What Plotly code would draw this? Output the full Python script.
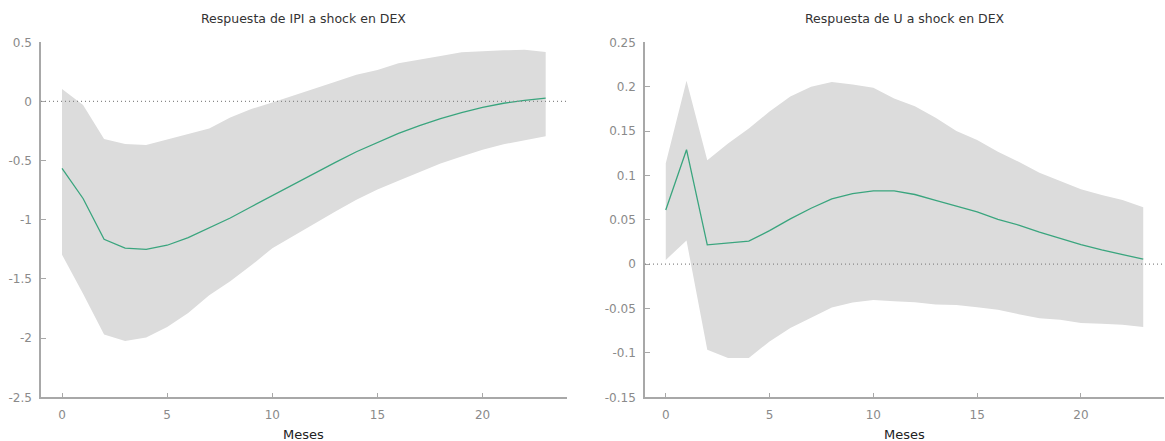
import plotly.graph_objects as go

# Horizon (months after the shock)
meses = list(range(24))

# IPI response to a DEX shock: point estimate and confidence band
ipi_resp = [-0.565, -0.82, -1.165, -1.24, -1.25, -1.215, -1.15, -1.07, -0.985, -0.89,
            -0.795, -0.70, -0.605, -0.515, -0.425, -0.345, -0.27, -0.205, -0.145, -0.095,
            -0.05, -0.015, 0.01, 0.028]
ipi_sup = [0.105, -0.03, -0.317, -0.36, -0.368, -0.32, -0.27, -0.228, -0.135, -0.064,
           -0.008, 0.048, 0.11, 0.166, 0.225, 0.265, 0.324, 0.357, 0.385, 0.416,
           0.427, 0.432, 0.436, 0.417]
ipi_inf = [-1.295, -1.624, -1.97, -2.024, -1.995, -1.906, -1.787, -1.638, -1.52, -1.385,
           -1.24, -1.135, -1.03, -0.93, -0.83, -0.745, -0.67, -0.595, -0.525, -0.465,
           -0.407, -0.362, -0.327, -0.295]

# U response to a DEX shock: point estimate and confidence band
u_resp = [0.061, 0.129, 0.0217, 0.024, 0.026, 0.0378, 0.051, 0.063, 0.0735, 0.0795,
          0.0825, 0.0825, 0.0785, 0.072, 0.0655, 0.059, 0.0505, 0.044, 0.036, 0.029,
          0.022, 0.016, 0.0105, 0.0056]
u_sup = [0.1136, 0.2066, 0.117, 0.136, 0.153, 0.172, 0.189, 0.1998, 0.2054, 0.2025,
         0.1987, 0.1867, 0.178, 0.165, 0.150, 0.140, 0.1267, 0.1154, 0.103, 0.0937,
         0.0844, 0.078, 0.0723, 0.064]
u_inf = [0.0048, 0.0266, -0.0964, -0.1058, -0.1058, -0.087, -0.072, -0.0608, -0.0488, -0.0432,
         -0.0405, -0.0417, -0.043, -0.0454, -0.0459, -0.0484, -0.0514, -0.0563, -0.0608, -0.0627,
         -0.0664, -0.067, -0.0683, -0.0709]

# Axis ticks
x_ticks = [0, 5, 10, 15, 20]
ipi_ticks = [0.5, 0, -0.5, -1, -1.5, -2, -2.5]
ipi_tick_text = ["0.5", "0", "-0.5", "-1", "-1.5", "-2", "-2.5"]
u_ticks = [0.25, 0.2, 0.15, 0.1, 0.05, 0, -0.05, -0.1, -0.15]
u_tick_text = ["0.25", "0.2", "0.15", "0.1", "0.05", "0", "-0.05", "-0.1", "-0.15"]

titles = ["Respuesta de IPI a shock en DEX", "Respuesta de U a shock en DEX"]
x_label = "Meses"

W, H = 1165, 441
FONT = "DejaVu Sans"
LINE = "#3aa57e"
BAND = "#dcdcdc"
AXIS = "#a8a8a8"
TICKTXT = "#8a8a8a"

fig = go.Figure()

panels = [
    (ipi_resp, ipi_sup, ipi_inf, "x", "y"),
    (u_resp, u_sup, u_inf, "x2", "y2"),
]
for resp, sup, inf, xa, ya in panels:
    fig.add_trace(go.Scatter(x=meses, y=inf, mode="lines", line=dict(width=0),
                             hoverinfo="skip", showlegend=False, xaxis=xa, yaxis=ya))
    fig.add_trace(go.Scatter(x=meses, y=sup, mode="lines", line=dict(width=0),
                             fill="tonexty", fillcolor=BAND, hoverinfo="skip",
                             showlegend=False, xaxis=xa, yaxis=ya))
    fig.add_trace(go.Scatter(x=meses, y=resp, mode="lines",
                             line=dict(color=LINE, width=1.3),
                             showlegend=False, xaxis=xa, yaxis=ya))

x_dom1 = [41 / W, 566.7 / W]
x_dom2 = [645 / W, 1164 / W]
y_dom = [(H - 397.3) / H, (H - 42.3) / H]

common_x = dict(range=[-1, 24], tickvals=x_ticks, showline=True, linecolor=AXIS,
                linewidth=1.5, ticks="inside", ticklen=5, tickcolor=AXIS, tickwidth=1,
                showgrid=False, zeroline=False, ticklabelstandoff=6, automargin=False,
                tickfont=dict(family=FONT, size=12, color=TICKTXT))
common_y = dict(showline=True, linecolor=AXIS, linewidth=1.5, ticks="inside",
                ticklen=5, tickcolor=AXIS, tickwidth=1, showgrid=False, zeroline=False,
                ticklabelstandoff=5, automargin=False,
                tickfont=dict(family=FONT, size=12, color=TICKTXT))

fig.update_layout(
    width=W, height=H,
    margin=dict(l=0, r=0, t=0, b=0, autoexpand=False),
    paper_bgcolor="white", plot_bgcolor="white",
    font=dict(family=FONT, size=11, color="#333"),
    xaxis=dict(domain=x_dom1, anchor="y", **common_x),
    yaxis=dict(domain=y_dom, anchor="x", range=[-2.5, 0.5], tickvals=ipi_ticks,
               ticktext=ipi_tick_text, **common_y),
    xaxis2=dict(domain=x_dom2, anchor="y2", **common_x),
    yaxis2=dict(domain=y_dom, anchor="x2", range=[-0.15, 0.25], tickvals=u_ticks,
                ticktext=u_tick_text, **common_y),
)

# Dotted zero reference line on each panel
for xa, ya in [("x", "y"), ("x2", "y2")]:
    fig.add_shape(type="line", xref=f"{xa} domain", yref=ya, x0=0, x1=1, y0=0, y1=0,
                  line=dict(color="#888", width=1.2, dash="1px,3px"), layer="above")

# Panel titles and x-axis labels
for title, dom in zip(titles, [x_dom1, x_dom2]):
    cx = (dom[0] + dom[1]) / 2
    fig.add_annotation(text=title, x=cx, y=(H - 19) / H, xref="paper", yref="paper",
                       showarrow=False, xanchor="center", yanchor="middle",
                       font=dict(family=FONT, size=12.5, color="#333"))
    fig.add_annotation(text=x_label, x=cx, y=(H - 434) / H, xref="paper", yref="paper",
                       showarrow=False, xanchor="center", yanchor="middle",
                       font=dict(family=FONT, size=13, color="#222"))

fig.write_html("out.html")
